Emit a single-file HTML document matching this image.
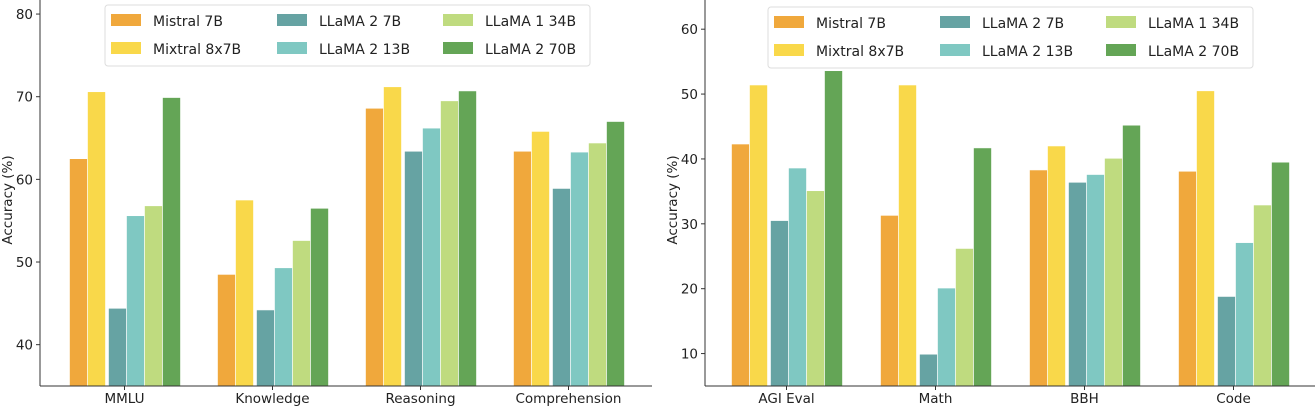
<!DOCTYPE html>
<html><head><meta charset="utf-8"><style>
body{margin:0;background:#fff;}
svg{display:block;font-family:"DejaVu Sans","Liberation Sans",sans-serif;}
</style></head><body>
<svg id="c" width="1315" height="408"></svg>
<script>
const seriesNames=["Mistral 7B","Mixtral 8x7B","LLaMA 2 7B","LLaMA 2 13B","LLaMA 1 34B","LLaMA 2 70B"];
const colors=["#f0a83c","#f9d84a","#66a3a3","#7fc8c2","#bfdb7f","#64a556"];
const leftCategories=["MMLU","Knowledge","Reasoning","Comprehension"];
const leftValues=[[62.5,70.6,44.4,55.6,56.8,69.9],[48.5,57.5,44.2,49.3,52.6,56.5],[68.6,71.2,63.4,66.2,69.5,70.7],[63.4,65.8,58.9,63.3,64.4,67.0]];
const leftTicks=[40,50,60,70,80];
const rightCategories=["AGI Eval","Math","BBH","Code"];
const rightValues=[[42.3,51.4,30.5,38.6,35.1,53.6],[31.3,51.4,9.9,20.1,26.2,41.7],[38.3,42.0,36.4,37.6,40.1,45.2],[38.1,50.5,18.8,27.1,32.9,39.5]];
const rightTicks=[10,20,30,40,50,60];
const NS="http://www.w3.org/2000/svg";
const svg=document.getElementById('c');
function mk(t,a,p){const e=document.createElementNS(NS,t);for(const k in a)e.setAttribute(k,a[k]);(p||svg).appendChild(e);return e;}
const offs=[-55,-37,-16,2,20,38];
function panel(px,prefix,cats,vals,ticks,ymin,ymax,c0,gstep,legX,legY){
  const g=mk('g',{});
  
  
  const top=0,bot=386;
  const y=v=>bot-(v-ymin)/(ymax-ymin)*(bot-top);
  vals.forEach((row,ci)=>{
    const cx=c0+ci*gstep;
    row.forEach((v,si)=>{
      const r=mk('rect',{x:cx+offs[si],y:y(v),width:18,height:bot-y(v),fill:colors[si],stroke:'#fff','stroke-width':0.6},g);
      
      
    });
    const t=mk('text',{x:cx,y:403,'text-anchor':'middle','font-size':13.5,fill:'#222'},g);
    t.textContent=cats[ci];
    
    
    mk('line',{x1:cx,x2:cx,y1:bot,y2:bot+4,stroke:'#333'},g);
  });
  ticks.forEach(tv=>{
    mk('line',{x1:px-4,x2:px,y1:y(tv),y2:y(tv),stroke:'#333'},g);
    const t=mk('text',{x:px-7,y:y(tv)+5,'text-anchor':'end','font-size':13.5,fill:'#222'},g);
    t.textContent=tv;
    
    
  });
  mk('line',{x1:px,x2:px,y1:0,y2:bot,stroke:'#333','stroke-width':1},g);
  mk('line',{x1:px,x2:px+612,y1:bot,y2:bot,stroke:'#333','stroke-width':1},g);
  const yl=mk('text',{transform:`translate(${px-32},200) rotate(-90)`,'text-anchor':'middle','dominant-baseline':'central','font-size':13.5,fill:'#222'},g);
  yl.textContent='Accuracy (%)';
  
  
  const lg=mk('g',{},g);
  
  
  mk('rect',{x:legX,y:legY,width:485,height:61,rx:3,fill:'#fff',stroke:'#ddd'},lg);
  seriesNames.forEach((n,i)=>{
    const col=Math.floor(i/2),row=i%2;
    const xx=legX+6+col*166,yy=legY+9+row*28;
    mk('rect',{x:xx,y:yy,width:30,height:12,fill:colors[i]},lg);
    const t=mk('text',{x:xx+42,y:yy+12,'font-size':14,fill:'#222'},lg);
    t.textContent=n;
    
    
  });
}
panel(40,'left',leftCategories,leftValues,leftTicks,35,81.7,124.5,148,105,5);
panel(705,'right',rightCategories,rightValues,rightTicks,5,64.5,786.5,149,768,7);
</script>
</body></html>
